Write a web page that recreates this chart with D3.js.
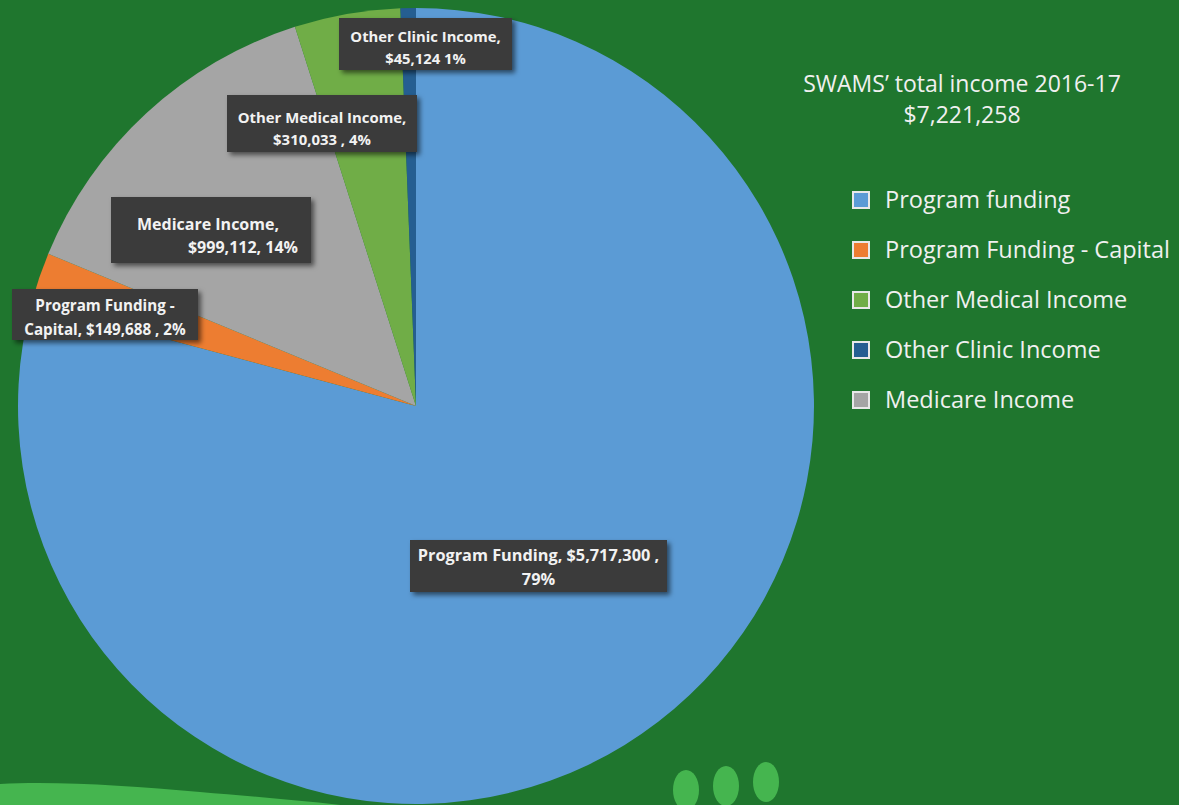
<!DOCTYPE html>
<html>
<head>
<meta charset="utf-8">
<script src="https://cdn.jsdelivr.net/npm/d3@7"></script>
<style>
  html, body { margin: 0; padding: 0; background: #1f762e; overflow: hidden; }
  svg { display: block; }
</style>
</head>
<body>
<div id="chart-area"></div>
<script>
// slices, clockwise from 12 o'clock
const categories = ["Program Funding", "Program Funding - Capital", "Medicare Income", "Other Medical Income", "Other Clinic Income"];
const values = [5717300, 149688, 999112, 310033, 45124];
const colors = ["#5b9bd5", "#ed7d31", "#a5a5a5", "#70ad47", "#255e91"];

// data label text, as printed on the chart
const labelLines = [
  ["Program Funding, $5,717,300 ,", "79%"],
  ["Program Funding -", "Capital, $149,688 , 2%"],
  ["Medicare Income,", "$999,112, 14%"],
  ["Other Medical Income,", "$310,033 , 4%"],
  ["Other Clinic Income,", "$45,124 1%"]
];

// legend (its own order)
const legendLabels = ["Program funding", "Program Funding - Capital", "Other Medical Income", "Other Clinic Income", "Medicare Income"];
const legendIndex = [0, 1, 3, 4, 2];

const titleLines = ["SWAMS\u2019 total income 2016-17", "$7,221,258"];

// label box placement (dragged by hand in the original)
// b = baseline offsets from box top, fs = font size
const labelBoxes = [
  {x: 410, y: 540, w: 257, h: 52, b: [21, 45], fs: 16.3, align: ["middle", "middle"]},
  {x: 12, y: 289, w: 186, h: 51, b: [22, 46], fs: 15.2, align: ["middle", "middle"]},
  {x: 111, y: 197, w: 200, h: 66, b: [33, 56], fs: 16, align: ["middle", "end"]},
  {x: 227, y: 95, w: 190, h: 57, b: [28, 50], fs: 14.9, align: ["middle", "middle"]},
  {x: 339, y: 18, w: 173, h: 52, b: [24, 46], fs: 14.8, align: ["middle", "middle"]}
];

const width = 1179, height = 805;
const cx = 416, cy = 406, radius = 398;

const svg = d3.select("#chart-area")
  .append("svg")
  .attr("width", width)
  .attr("height", height);

const defs = svg.append("defs");
const shadow = defs.append("filter").attr("id", "shadow")
  .attr("x", "-10%").attr("y", "-20%").attr("width", "130%").attr("height", "160%");
shadow.append("feDropShadow")
  .attr("dx", 3).attr("dy", 3).attr("stdDeviation", 2.5)
  .attr("flood-color", "#000").attr("flood-opacity", 0.55);

// background decoration
svg.append("path")
  .attr("d", "M0,784 C60,781 130,786 200,792 C260,797 330,803 400,812 L0,812 Z")
  .attr("fill", "#45b54f");

let ovals = [[686, 790], [726, 786], [766, 782]];
svg.selectAll(".oval")
  .data(ovals)
  .enter()
  .append("ellipse")
  .attr("class", "oval")
  .attr("cx", d => d[0])
  .attr("cy", d => d[1])
  .attr("rx", 13)
  .attr("ry", 20)
  .attr("fill", "#45b54f");

// ---- PIE ----
let pie = d3.pie().sort(null).value(d => d);
let arc = d3.arc().innerRadius(0).outerRadius(radius);

let g = svg.append("g").attr("transform", "translate(" + cx + "," + cy + ")");

g.selectAll(".slice")
  .data(pie(values))
  .enter()
  .append("path")
  .attr("class", "slice")
  .attr("d", arc)
  .attr("fill", (d, i) => colors[i]);

// ---- DATA LABELS ----
let labels = svg.selectAll(".label")
  .data(labelBoxes)
  .enter()
  .append("g")
  .attr("class", "label");

labels.append("rect")
  .attr("x", d => d.x)
  .attr("y", d => d.y)
  .attr("width", d => d.w)
  .attr("height", d => d.h)
  .attr("fill", "#3b3b3b")
  .attr("filter", "url(#shadow)");

labels.each(function(d, i) {
  let lines = labelLines[i];
  lines.forEach(function(t, j) {
    let anchor = d.align[j];
    let tx = anchor == "end" ? d.x + d.w - 13 : d.x + d.w / 2 + (i == 2 ? -3 : 0);
    d3.select(this).append("text")
      .attr("x", tx)
      .attr("y", d.y + d.b[j])
      .attr("text-anchor", anchor)
      .attr("fill", "#f2f2f2")
      .style("font-family", "'Open Sans', 'Noto Sans', sans-serif")
      .style("font-weight", "bold")
      .style("font-size", d.fs + "px")
      .text(t);
  }, this);
});

// ---- TITLE ----
svg.selectAll(".title")
  .data(titleLines)
  .enter()
  .append("text")
  .attr("class", "title")
  .attr("x", 962)
  .attr("y", (d, i) => 92 + i * 31)
  .attr("text-anchor", "middle")
  .attr("fill", "#f0f0f0")
  .style("font-family", "'Open Sans', 'Noto Sans', sans-serif")
  .style("font-weight", 400)
  .style("font-size", "23px")
  .text(d => d);

// ---- LEGEND ----
let legend = svg.selectAll(".legend")
  .data(legendLabels)
  .enter()
  .append("g")
  .attr("class", "legend")
  .attr("transform", (d, i) => "translate(852," + (200 + i * 50) + ")");

legend.append("rect")
  .attr("x", 1)
  .attr("y", -8)
  .attr("width", 16)
  .attr("height", 16)
  .attr("fill", (d, i) => colors[legendIndex[i]])
  .attr("stroke", "#e8e8e8")
  .attr("stroke-width", 2);

legend.append("text")
  .attr("x", 33)
  .attr("y", 8)
  .attr("fill", "#f0f0f0")
  .style("font-family", "'Open Sans', 'Noto Sans', sans-serif")
  .style("font-weight", 400)
  .style("font-size", "23.5px")
  .text(d => d);
</script>
</body>
</html>
